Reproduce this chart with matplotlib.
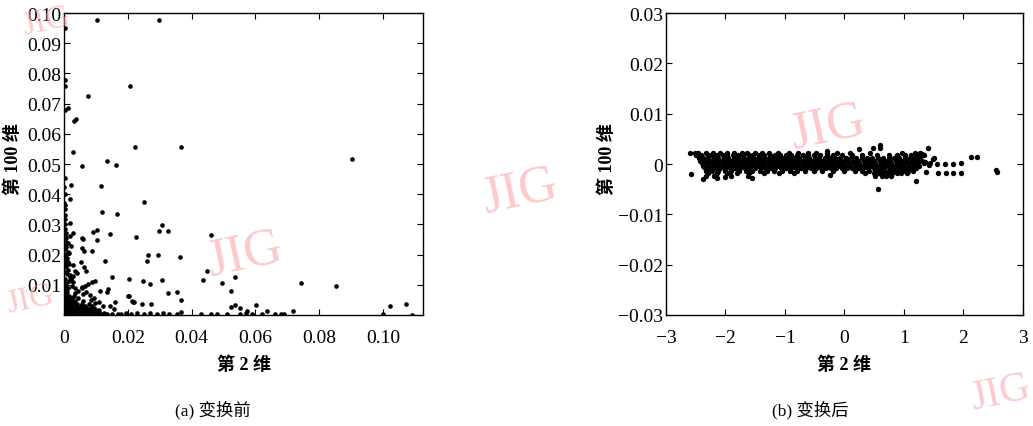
import matplotlib
matplotlib.use('Agg')
import matplotlib.pyplot as plt
import numpy as np

plt.rcParams['font.family'] = ['Liberation Serif', 'Noto Sans CJK SC']
plt.rcParams['axes.unicode_minus'] = True

# ---- panel (a): before transform ----
# scattered points
a_out_x = [0.0104, 0.0299, 0.0002, 0.0207, 0.0076, 0.0002, 0.0002, 0.0004, 0.0013, 0.0030, 0.0039,
           0.0028, 0.0223, 0.0368, 0.0903, 0.0135, 0.0164, 0.0057, 0.0023, 0.0117, 0.0020, 0.0250,
           0.0119, 0.0165, 0.0019, 0.0297, 0.0306, 0.0327, 0.0092, 0.0102, 0.0144, 0.0027, 0.0459,
           0.0226, 0.0060, 0.0055, 0.0102, 0.0055, 0.0063, 0.0087, 0.0264, 0.0296, 0.0259, 0.0364,
           0.0129, 0.0052, 0.0029, 0.0013, 0.0063, 0.0069, 0.0034, 0.0042, 0.0029, 0.0448, 0.0149,
           0.0202, 0.0249, 0.0307, 0.0436, 0.0495, 0.0537, 0.0744, 0.0851, 0.0523, 0.0353, 0.0327,
           0.0199, 0.0366, 0.0216, 0.0272, 0.0537, 0.0601, 0.1021, 0.1073, 0.0524, 0.0553, 0.0574,
           0.0637, 0.0718, 0.1092, 0.1000, 0.0202, 0.0212, 0.0219, 0.0243, 0.0144, 0.0155, 0.0160,
           0.0134, 0.0139, 0.0113, 0.0270]
a_out_y = [0.0978, 0.0976, 0.0950, 0.0757, 0.0725, 0.0780, 0.0760, 0.0680, 0.0685, 0.0644, 0.0648,
           0.0539, 0.0557, 0.0555, 0.0517, 0.0509, 0.0497, 0.0492, 0.0432, 0.0427, 0.0385, 0.0375,
           0.0340, 0.0336, 0.0305, 0.0279, 0.0298, 0.0279, 0.0276, 0.0280, 0.0268, 0.0272, 0.0264,
           0.0257, 0.0252, 0.0254, 0.0249, 0.0221, 0.0213, 0.0213, 0.0199, 0.0199, 0.0180, 0.0191,
           0.0180, 0.0175, 0.0166, 0.0175, 0.0158, 0.0147, 0.0147, 0.0139, 0.0130, 0.0147, 0.0125,
           0.0119, 0.0114, 0.0116, 0.0117, 0.0107, 0.0125, 0.0105, 0.0095, 0.0081, 0.0077, 0.0073,
           0.0064, 0.0048, 0.0044, 0.0036, 0.0033, 0.0033, 0.0029, 0.0038, 0.0028, 0.0022, 0.0014,
           0.0014, 0.0014, 0.0001, 0.0003, 0.0062, 0.0047, 0.0042, 0.0036, 0.0031, 0.0020, 0.0042,
           0.0075, 0.0086, 0.0080, 0.0103]

# streaks near the origin
a_streak_x = [0.0034, 0.0045, 0.0055, 0.0066, 0.0076, 0.0087, 0.0097,
              0.0055, 0.0069, 0.0082, 0.0094, 0.0108, 0.0121, 0.0035, 0.0060, 0.0085, 0.0098]
a_streak_y = [0.0073, 0.0080, 0.0088, 0.0095, 0.0103, 0.0108, 0.0114,
              0.0092, 0.0077, 0.0066, 0.0055, 0.0044, 0.0031, 0.0090, 0.0070, 0.0050, 0.0040]

# column along the y axis
a_col_y = [0.0068, 0.0075, 0.0082, 0.0090, 0.0097, 0.0105, 0.0112, 0.0120, 0.0127, 0.0135, 0.0142,
           0.0150, 0.0158, 0.0165, 0.0172, 0.0180, 0.0188, 0.0195, 0.0203, 0.0210, 0.0218, 0.0225,
           0.0233, 0.0240, 0.0248, 0.0256, 0.0263, 0.0270, 0.0285, 0.0300, 0.0318, 0.0330, 0.0350,
           0.0365, 0.0370, 0.0400, 0.0425, 0.0455, 0.0118, 0.0132, 0.0095, 0.0168, 0.0205, 0.0238,
           0.0262, 0.0228, 0.0110, 0.0125]
a_col_x = [0.0003, 0.0008, 0.0004, 0.0011, 0.0002, 0.0007, 0.0015, 0.0004, 0.0019, 0.0009, 0.0003,
           0.0012, 0.0005, 0.0002, 0.0008, 0.0004, 0.0010, 0.0003, 0.0006, 0.0013, 0.0002, 0.0007,
           0.0004, 0.0009, 0.0003, 0.0006, 0.0002, 0.0005, 0.0003, 0.0004, 0.0002, 0.0003, 0.0002,
           0.0004, 0.0001, 0.0002, 0.0001, 0.0002, 0.0022, 0.0018, 0.0025, 0.0014, 0.0016, 0.0012,
           0.0018, 0.0021, 0.0028, 0.0026]

# points lying along the x axis
a_floor_x = [0.0180, 0.0195, 0.0210, 0.0230, 0.0250, 0.0270, 0.0290, 0.0310, 0.0330, 0.0355, 0.0365,
             0.0430, 0.0460, 0.0480, 0.0510, 0.0550, 0.0570, 0.0590, 0.0620, 0.0660, 0.0680, 0.0690]
a_floor_y = [0.0004, 0.0008, 0.0003, 0.0006, 0.0002, 0.0005, 0.0003, 0.0007, 0.0002, 0.0004, 0.0009,
             0.0003, 0.0002, 0.0004, 0.0002, 0.0003, 0.0006, 0.0002, 0.0003, 0.0002, 0.0004, 0.0002]

# dense block at the origin, row by row
a_block_y = [0.0002, 0.0008, 0.0015, 0.0022, 0.0030, 0.0038, 0.0046, 0.0055, 0.0064]
a_block_x = [
    [0.0003, 0.0012, 0.0020, 0.0030, 0.0039, 0.0048, 0.0057, 0.0066, 0.0075, 0.0085, 0.0094,
     0.0103, 0.0112, 0.0122, 0.0135, 0.0150, 0.0170],
    [0.0003, 0.0011, 0.0020, 0.0029, 0.0038, 0.0047, 0.0056, 0.0065, 0.0074, 0.0083, 0.0092,
     0.0101, 0.0110, 0.0125],
    [0.0004, 0.0013, 0.0022, 0.0031, 0.0040, 0.0049, 0.0058, 0.0068, 0.0078, 0.0088, 0.0099, 0.0108],
    [0.0003, 0.0012, 0.0021, 0.0030, 0.0040, 0.0050, 0.0060, 0.0072, 0.0085, 0.0095],
    [0.0004, 0.0013, 0.0022, 0.0032, 0.0042, 0.0053, 0.0066, 0.0088],
    [0.0003, 0.0012, 0.0021, 0.0030, 0.0041, 0.0055, 0.0078],
    [0.0004, 0.0013, 0.0023, 0.0035, 0.0060],
    [0.0003, 0.0012, 0.0024, 0.0045],
    [0.0004, 0.0014, 0.0030],
]

# ---- panel (b): after transform ----
b_band_y = [0.0022, 0.0017, 0.0012, 0.0007, 0.0002, -0.0003, -0.0008, -0.0013, -0.0018, -0.0023]
b_band_x = [
    [-2.52, -2.47, -2.33, -2.21, -2.10, -1.98, -1.86, -1.73, -1.64, -1.50, -1.38, -1.27, -1.12,
     -0.93, -0.78, -0.62, -0.48, -0.30, -0.12, 0.10, 0.43, 0.97, 1.18, 1.27],
    [-2.50, -2.41, -2.30, -2.24, -2.15, -2.05, -1.97, -1.88, -1.79, -1.70, -1.61, -1.53, -1.44,
     -1.35, -1.26, -1.17, -1.08, -0.99, -0.90, -0.80, -0.70, -0.61, -0.52, -0.41, -0.30, -0.20,
     -0.05, 0.12, 0.30, 0.55, 0.75, 0.88, 1.02, 1.12, 1.22, 1.30],
    [-2.45, -2.37, -2.29, -2.20, -2.12, -2.03, -1.95, -1.86, -1.78, -1.69, -1.61, -1.52, -1.44,
     -1.35, -1.27, -1.18, -1.10, -1.01, -0.93, -0.84, -0.76, -0.67, -0.59, -0.50, -0.42, -0.33,
     -0.25, -0.16, -0.07, 0.02, 0.11, 0.20, 0.29, 0.38, 0.47, 0.56, 0.65, 0.74, 0.83, 0.92,
     1.01, 1.10, 1.19, 1.27],
    [-2.42, -2.34, -2.25, -2.17, -2.08, -2.00, -1.91, -1.83, -1.74, -1.66, -1.57, -1.49, -1.40,
     -1.32, -1.23, -1.15, -1.06, -0.98, -0.89, -0.81, -0.72, -0.64, -0.55, -0.47, -0.38, -0.30,
     -0.21, -0.13, -0.04, 0.05, 0.14, 0.23, 0.32, 0.41, 0.50, 0.59, 0.68, 0.77, 0.86, 0.95,
     1.04, 1.13, 1.22, 1.30],
    [-2.40, -2.31, -2.23, -2.14, -2.06, -1.97, -1.89, -1.80, -1.72, -1.63, -1.55, -1.46, -1.38,
     -1.29, -1.21, -1.12, -1.04, -0.95, -0.87, -0.78, -0.70, -0.61, -0.53, -0.44, -0.36, -0.27,
     -0.19, -0.10, -0.02, 0.07, 0.16, 0.25, 0.34, 0.43, 0.52, 0.61, 0.70, 0.79, 0.88, 0.97,
     1.06, 1.15, 1.24, 1.33],
    [-2.37, -2.29, -2.20, -2.12, -2.03, -1.95, -1.86, -1.78, -1.69, -1.61, -1.52, -1.44, -1.35,
     -1.27, -1.18, -1.10, -1.01, -0.93, -0.84, -0.76, -0.67, -0.59, -0.50, -0.42, -0.33, -0.25,
     -0.16, -0.08, 0.01, 0.10, 0.19, 0.28, 0.37, 0.46, 0.55, 0.64, 0.73, 0.82, 0.91, 1.00,
     1.09, 1.18, 1.26],
    [-2.35, -2.26, -2.18, -2.09, -2.01, -1.92, -1.84, -1.75, -1.67, -1.58, -1.50, -1.41, -1.33,
     -1.24, -1.16, -1.07, -0.99, -0.90, -0.82, -0.73, -0.65, -0.56, -0.48, -0.39, -0.31, -0.22,
     -0.14, -0.05, 0.04, 0.13, 0.22, 0.31, 0.40, 0.49, 0.58, 0.67, 0.76, 0.85, 0.94, 1.03,
     1.12, 1.20],
    [-2.33, -2.22, -2.12, -2.00, -1.90, -1.77, -1.66, -1.55, -1.42, -1.30, -1.19, -1.05, -0.92,
     -0.80, -0.66, -0.52, -0.38, -0.20, 0.00, 0.18, 0.30, 0.42, 0.52, 0.60, 0.68, 0.75, 0.83,
     0.90, 0.98, 1.07, 1.15],
    [-2.30, -2.15, -1.98, -1.80, -1.60, -1.35, -1.10, -0.85, 0.35, 0.50, 0.58, 0.66, 0.72, 0.80,
     0.88, 0.95, 1.05],
    [-2.32, -2.20, -1.90, -1.62, 0.52, 0.63, 0.70, 0.78],
]
b_out_x = [-2.60, -2.585, -2.37, -2.15, -2.00, -1.55, -0.25, 0.25, 0.48, 0.60, 0.60, 0.57, 1.20,
           1.41, 2.23, 2.13, 2.56, 2.54, 1.96, 1.83, 1.71, 1.58, 1.37, 1.96, 1.83, 1.69, 1.55,
           1.44, 1.30, 1.33, -0.30, 1.36, 1.42, 1.48, 1.50]
b_out_y = [0.0022, -0.0019, -0.0030, -0.0027, -0.0025, -0.0027, -0.0022, 0.0029, 0.0032, 0.0037,
           0.0031, -0.0049, -0.0033, 0.0032, 0.0013, 0.0013, -0.0015, -0.0012, -0.0017, -0.0018,
           -0.0017, -0.0017, -0.0015, 0.0003, 0.0000, 0.0000, 0.0001, 0.0003, 0.0020, 0.0017,
           0.0025, 0.0005, -0.0002, 0.0010, 0.0012]

a_xticks = [0, 0.02, 0.04, 0.06, 0.08, 0.10]
a_xlabels = ['0', '0.02', '0.04', '0.06', '0.08', '0.10']
a_yticks = [0.01, 0.02, 0.03, 0.04, 0.05, 0.06, 0.07, 0.08, 0.09, 0.10]
b_xticks = [-3, -2, -1, 0, 1, 2, 3]
b_yticks = [-0.03, -0.02, -0.01, 0, 0.01, 0.02, 0.03]
b_ylabels = ['\u22120.03', '\u22120.02', '\u22120.01', '0', '0.01', '0.02', '0.03']
b_xlabels = ['\u22123', '\u22122', '\u22121', '0', '1', '2', '3']

# gather panel a
ax_pts = a_out_x + a_streak_x + a_col_x + a_floor_x
ay_pts = a_out_y + a_streak_y + a_col_y + a_floor_y
for yv, row in zip(a_block_y, a_block_x):
    ax_pts += row
    ay_pts += [yv] * len(row)

bx_pts = list(b_out_x)
by_pts = list(b_out_y)
for yv, row in zip(b_band_y, b_band_x):
    bx_pts += row
    by_pts += [yv] * len(row)

fig = plt.figure(figsize=(10.33, 4.27), dpi=100)
axa = fig.add_axes([0.062, 0.26, 0.3475, 0.707])
axb = fig.add_axes([0.6447, 0.26, 0.3456, 0.707])

axa.scatter(ax_pts, ay_pts, s=11, c='black', linewidths=0)
axb.scatter(bx_pts, by_pts, s=15, c='black', linewidths=0)

axa.set_xlim(0, 0.1125)
axa.set_ylim(0, 0.10)
axa.set_xticks(a_xticks)
axa.set_xticklabels(a_xlabels)
axa.set_yticks(a_yticks)
axa.set_yticklabels(['%.2f' % v for v in a_yticks])

axb.set_xlim(-3, 3)
axb.set_ylim(-0.03, 0.03)
axb.set_xticks(b_xticks)
axb.set_xticklabels(b_xlabels)
axb.set_yticks(b_yticks)
axb.set_yticklabels(b_ylabels)

for ax in (axa, axb):
    ax.tick_params(direction='in', top=True, right=True, length=4, width=0.8, labelsize=14)
    ax.tick_params(axis='y', pad=2)
    ax.tick_params(axis='x', pad=10)
    for sp in ax.spines.values():
        sp.set_linewidth(1.0)
    ax.set_xlabel('第 2 维', fontsize=13, fontweight='bold')
    ax.set_ylabel('第 100 维', fontsize=13, fontweight='bold')
    ax.xaxis.set_label_coords(0.5, -0.135)

axa.yaxis.set_label_coords(-0.118, 0.52)
axb.yaxis.set_label_coords(-0.14, 0.52)

fig.text(213 / 1033, 1 - 410 / 427, '(a) 变换前', ha='center', va='center', fontsize=12.5)
fig.text(810 / 1033, 1 - 410 / 427, '(b) 变换后', ha='center', va='center', fontsize=12.5)

# JIG watermarks
wm = [(245, 255, 38), (520, 192, 38), (828, 128, 38), (46, 22, 24), (30, 300, 24), (1000, 394, 30)]
for px, py, fs in wm:
    fig.text(px / 1033, 1 - py / 427, 'JIG', ha='center', va='center', fontsize=fs,
             color=(0.98, 0.65, 0.65), alpha=0.6, rotation=12, zorder=10,
             family='Liberation Serif')

fig.savefig('out.png', dpi=100)
